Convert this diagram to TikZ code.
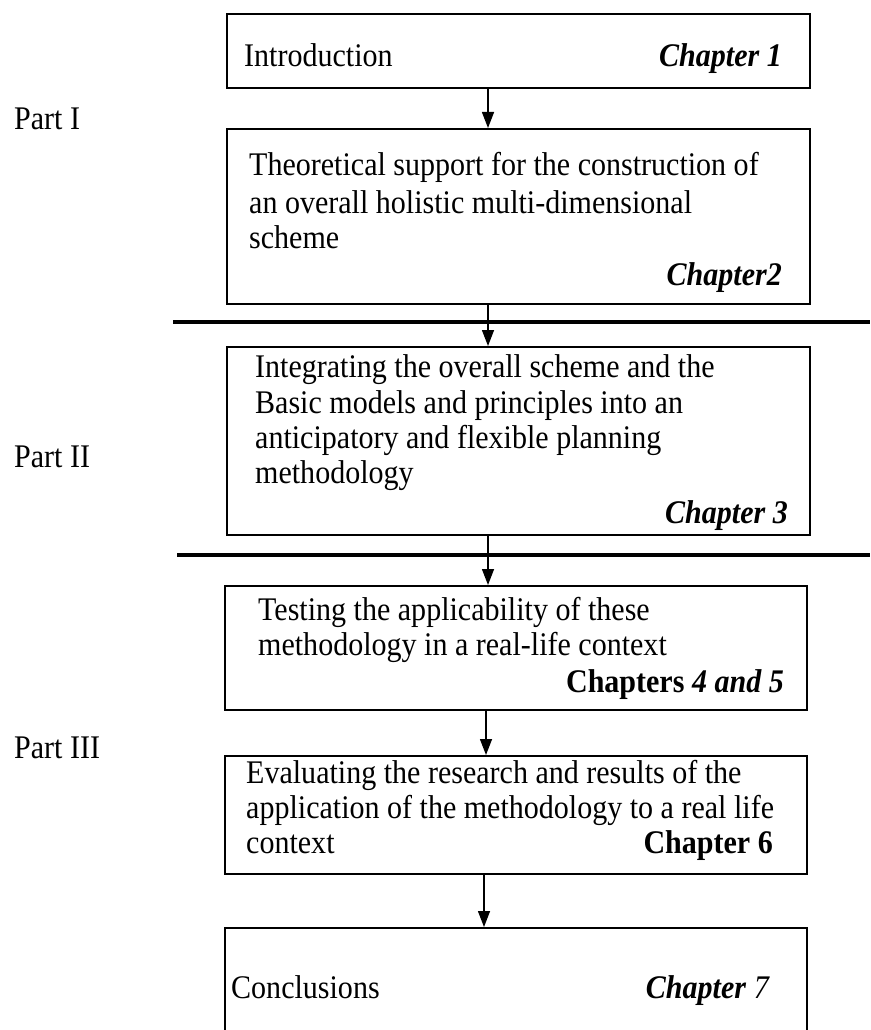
\documentclass[tikz,border=0pt]{standalone}
\usepackage{fontspec}
\setmainfont[FakeStretch=0.91]{Liberation Serif}
\usetikzlibrary{arrows.meta}
\begin{document}
\begin{tikzpicture}[x=1pt,y=-1pt,
  chapbox/.style={draw, line width=1.6pt, rectangle, inner sep=0pt, anchor=north west},
  txt/.style={inner sep=0pt, font=\fontsize{33}{38}\selectfont},
  lft/.style={txt, anchor=base west},
  rgt/.style={txt, anchor=base east},
  flow/.style={line width=1.4pt, -{Triangle[length=16pt,width=12pt]}},
  divider/.style={line width=3.2pt},
]
\useasboundingbox (0,0) rectangle (870,1030);
\clip (0,0) rectangle (870,1030);

% chapter boxes
\node[chapbox, minimum width=583pt, minimum height=74pt]  (b1) at (226,13)  {};
\node[chapbox, minimum width=583pt, minimum height=175pt] (b2) at (226,128) {};
\node[chapbox, minimum width=583pt, minimum height=188pt] (b3) at (226,346) {};
\node[chapbox, minimum width=582pt, minimum height=124pt] (b4) at (224,585) {};
\node[chapbox, minimum width=582pt, minimum height=118pt] (b5) at (224,755) {};
\node[chapbox, minimum width=582pt, minimum height=108pt] (b6) at (224,927) {};

% box texts
\node[lft] (t1a) at (244,67) {Introduction};
\node[rgt] (t1c) at (782,67) {\textbf{\textit{Chapter 1}}};

\node[lft] (t2a) at (249,175) {Theoretical support for the construction of};
\node[lft] (t2b) at (249,213) {an overall holistic multi-dimensional};
\node[lft] (t2d) at (249,248) {scheme};
\node[rgt] (t2c) at (782,285) {\textbf{\textit{Chapter2}}};

\node[lft] (t3a) at (255,377) {Integrating the overall scheme and the};
\node[lft] (t3b) at (255,413) {Basic models and principles into an};
\node[lft] (t3d) at (255,448) {anticipatory and flexible planning};
\node[lft] (t3e) at (255,483) {methodology};
\node[rgt] (t3c) at (788,523) {\textbf{\textit{Chapter 3}}};

\node[lft] (t4a) at (258,620) {Testing the applicability of these};
\node[lft] (t4b) at (258,655) {methodology in a real-life context};
\node[rgt] (t4c) at (784,692) {\textbf{Chapters \textit{4 and 5}}};

\node[lft] (t5a) at (246,783) {Evaluating the research and results of the};
\node[lft] (t5b) at (246,818) {application of the methodology to a real life};
\node[lft] (t5d) at (246,853) {context};
\node[rgt] (t5c) at (773,853) {\textbf{Chapter 6}};

\node[lft] (t6a) at (231,998) {Conclusions};
\node[rgt] (t6c) at (770,998) {\textbf{\textit{Chapter}} \textit{7}};

% part labels
\node[lft] (p1) at (14,129) {Part I};
\node[lft] (p2) at (14,467) {Part II};
\node[lft] (p3) at (14,758) {Part III};

% flow arrows
\coordinate (axA) at (488,0);
\coordinate (axB) at (486,0);
\coordinate (axC) at (484,0);
\draw[flow] (b1.south -| axA) -- (b2.north -| axA);
\draw[flow] (b2.south -| axA) -- (b3.north -| axA);
\draw[flow] (b3.south -| axA) -- (b4.north -| axA);
\draw[flow] (b4.south -| axB) -- (b5.north -| axB);
\draw[flow] (b5.south -| axC) -- (b6.north -| axC);

% dividers between the parts
\coordinate (d1l) at (173,322);
\coordinate (d1r) at (870,322);
\coordinate (d2l) at (177,555);
\coordinate (d2r) at (870,555);
\draw[divider] (d1l) -- (d1r);
\draw[divider] (d2l) -- (d2r);
\end{tikzpicture}
\end{document}
